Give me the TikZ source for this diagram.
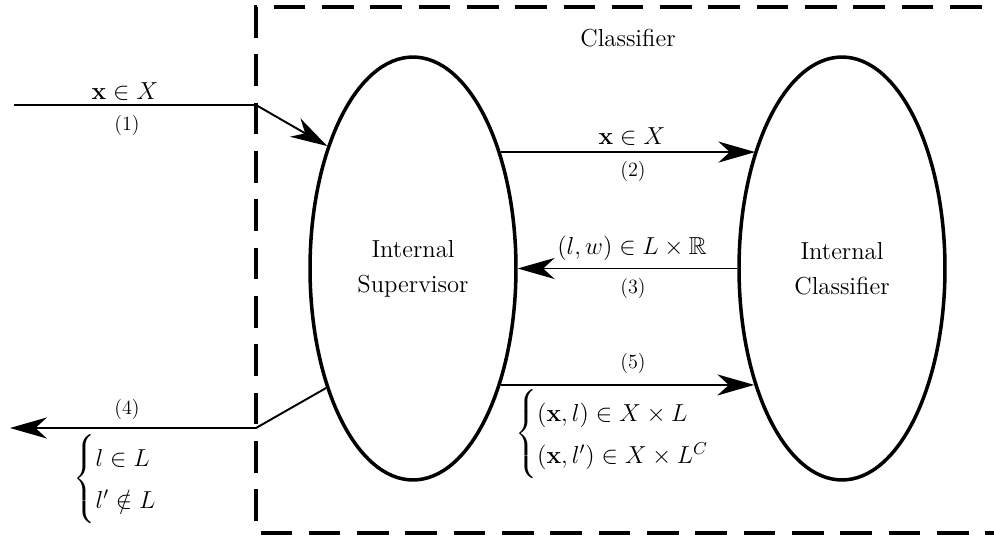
\RequirePackage{fix-cm}
\documentclass[tikz,border=0pt]{standalone}
\usepackage{amsmath,amssymb}
\usetikzlibrary{shapes.geometric,arrows.meta}
\begin{document}
\begin{tikzpicture}[x=0.02cm,y=-0.02cm,
  every node/.style={font=\fontsize{14}{20}\selectfont},
  agent/.style={draw,ellipse,line width=2pt,inner sep=0pt,minimum height=8.46cm,minimum width=4.12cm,align=center},
  numlab/.style={font=\fontsize{11.5}{14}\selectfont},
  conn/.style={line width=1.1pt},
  arr/.style={conn,-{Stealth[length=21pt,width=12pt,inset=6.5pt]}},
  boxline/.style={line width=2.4pt,dash pattern=on 18pt off 9.5pt}]
\useasboundingbox (0,0) rectangle (994,537);
% dashed classifier boundary
\draw[boxline] (1030,7) -- (256,7) -- (256,533) -- (1030,533);
\node (title) at (628,38) {Classifier};
% ellipses
\node[agent] (sup) at (413,268.5) {Internal\\Supervisor};
\node[agent] (cls) at (842,268.5) {Internal\\Classifier};
% coordinates
\coordinate (c1a) at (14,105);
\coordinate (c1b) at (256,105);
\coordinate (c4a) at (256,428);
\coordinate (c4b) at (10,428);
% connectors
\draw[arr] (c1a) -- (c1b) -- (sup.125.4);
\draw[arr] (sup.53.5) -- (cls.126.5 |- sup.53.5);
\draw[arr] (cls.180) -- (sup.0);
\draw[arr] (sup.-53) -- (cls.233 |- sup.-53);
\draw[arr] (sup.234.3) -- (c4a) -- (c4b);
% labels
\node (lab1) at (125,92) {$\mathbf{x}\in X$};
\node[numlab] (num1) at (127,125) {(1)};
\node (lab2) at (632,137) {$\mathbf{x}\in X$};
\node[numlab] (num2) at (633,171) {(2)};
\node (lab3) at (632,248) {$(l,w)\in L\times\mathbb{R}$};
\node[numlab] (num3) at (633,288) {(3)};
\node[numlab] (num5) at (633,363) {(5)};
\node (lab5) at (625,434) {$\begin{cases}(\mathbf{x},l)\in X\times L\\(\mathbf{x},l')\in X\times L^{C}\end{cases}$};
\node[numlab] (num4) at (127,409) {(4)};
\node (lab4) at (128,479) {$\begin{cases}l\in L\\l'\notin L\end{cases}$};
\end{tikzpicture}
\end{document}
